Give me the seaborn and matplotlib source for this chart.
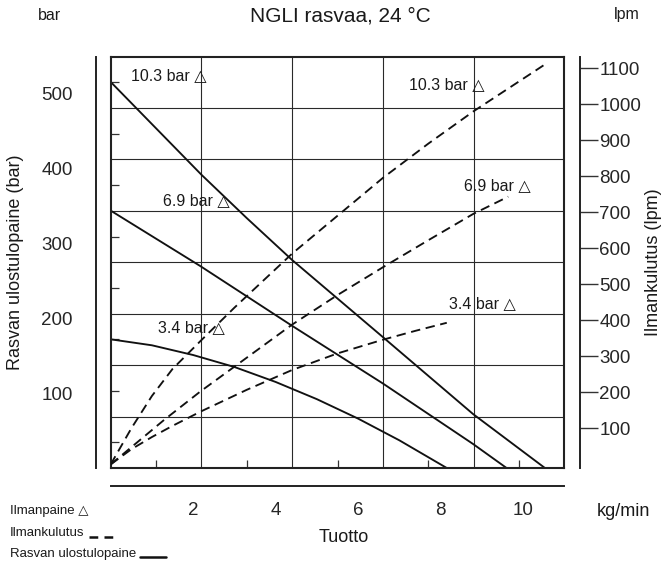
import numpy as np
import pandas as pd
import matplotlib
matplotlib.use("Agg")
import matplotlib.pyplot as plt
from matplotlib.lines import Line2D
import seaborn as sns

# Rasvan ulostulopaine (bar) tuoton (kg/min) funktiona, luettu kuvasta
flow_103 = [0, 1.1, 2.2, 3.3, 4.4, 6.6, 8.79, 10.53]
press_103 = [516, 454, 392, 334, 278, 175, 72, 0]
flow_69 = [0, 2.17, 4.4, 6.6, 8.79, 9.6]
press_69 = [344, 270, 190, 113, 32, 0]
flow_34 = [0, 1, 2, 3, 4, 5, 6, 7, 8.15]
press_34 = [172, 164, 151, 135, 115, 92, 66, 37, 0]

# Ilmankulutus (lpm)
air_flow_103 = [0, 0.5, 1, 1.5, 2.2, 3, 4.4, 5.5, 6.6, 7.7, 8.8, 10.53]
air_103 = [0, 100, 190, 265, 345, 435, 585, 690, 795, 890, 980, 1110]
air_flow_69 = [0, 1.28, 2.17, 2.89, 4.4, 5.5, 6.6, 7.7, 8.79, 9.64]
air_69 = [0, 122, 202, 262, 388, 470, 547, 622, 695, 743]
air_flow_34 = [0, 0.5, 1, 1.5, 2.17, 3.3, 4.4, 5.5, 6.6, 7.4, 8.15]
air_34 = [0, 42, 76, 107, 146, 207, 262, 308, 346, 371, 393]

series = ["10.3 bar", "6.9 bar", "3.4 bar"]
bar_ticks = [100, 200, 300, 400, 500]
lpm_ticks = [100, 200, 300, 400, 500, 600, 700, 800, 900, 1000, 1100]
x_major = [2, 4, 6, 8, 10]
x_minor = [1, 3, 5, 7, 9, 11]

df_p = pd.concat([
    pd.DataFrame({"tuotto": f, "paine": p, "ilma": s})
    for f, p, s in zip([flow_103, flow_69, flow_34], [press_103, press_69, press_34], series)
])
df_a = pd.concat([
    pd.DataFrame({"tuotto": f, "lpm": a, "ilma": s})
    for f, a, s in zip([air_flow_103, air_flow_69, air_flow_34], [air_103, air_69, air_34], series)
])

sns.set_style("white")
plt.rcParams["font.family"] = ["Liberation Sans", "DejaVu Sans"]
plt.rcParams["text.color"] = "#1a1a1a"

W, H = 668, 565
fig = plt.figure(figsize=(W / 100, H / 100), dpi=100)
rect = [110.7 / W, 1 - 468 / H, 453.6 / W, 411.5 / H]

XMAX, YMAX = 11, 550
LPM_LIM = (-10, 1132)
TICK_FS = 13.5

# paakuvaaja: ruudukko + kayrat
ax = fig.add_axes(rect)
ax.set_xlim(0, XMAX)
ax.set_ylim(0, YMAX)
ax.set_xticks(np.linspace(0, XMAX, 6)[1:-1])
ax.set_xticks(np.linspace(0, XMAX, 11)[1::2], minor=True)
ax.set_yticks(np.linspace(0, YMAX, 9)[1:-1])
ax.set_yticks(np.linspace(0, YMAX, 17)[1::2], minor=True)
ax.tick_params(which="major", length=0, labelbottom=False, labelleft=False)
ax.tick_params(which="minor", direction="in", length=6, width=0.9, color="#333",
               bottom=True, left=True, right=True, top=False,
               labelbottom=False, labelleft=False)
ax.grid(True, which="major", color="#2a2a2a", lw=0.8)
for sp in ax.spines.values():
    sp.set_linewidth(1.5)
    sp.set_color("#222")

sns.lineplot(data=df_p, x="tuotto", y="paine", units="ilma", estimator=None,
             sort=False, color="#111", lw=1.35, ax=ax)
ax.set_xlabel("")
ax.set_ylabel("")

# ilmankulutus oikealle akselille
ax_r = ax.twinx()
ax_r.set_ylim(*LPM_LIM)
sns.lineplot(data=df_a, x="tuotto", y="lpm", units="ilma", estimator=None,
             sort=False, color="#111", lw=1.35, linestyle=(0, (5, 3)), ax=ax_r)
ax_r.set_xlim(0, XMAX)
for k in ["left", "top", "bottom"]:
    ax_r.spines[k].set_visible(False)
ax_r.spines["right"].set_position(("outward", 11.3))
ax_r.spines["right"].set_linewidth(1.4)
ax_r.spines["right"].set_color("#222")
ax_r.set_yticks(lpm_ticks)
ax_r.tick_params(axis="y", direction="out", length=13, width=1.0, pad=1,
                 labelsize=TICK_FS, color="#333")
ax_r.set_ylabel("")
ax_r.set_xlabel("")

# vasen erillinen bar-asteikko
ax_l = fig.add_axes(rect, facecolor="none")
ax_l.set_ylim(0, YMAX)
ax_l.set_xticks([])
for k in ["right", "top", "bottom"]:
    ax_l.spines[k].set_visible(False)
ax_l.spines["left"].set_position(("outward", 10.6))
ax_l.spines["left"].set_linewidth(1.4)
ax_l.spines["left"].set_color("#222")
ax_l.set_yticks(bar_ticks)
ax_l.tick_params(axis="y", direction="out", length=11.8, width=1.0, pad=5,
                 labelsize=TICK_FS, color="#555")

# alempi erillinen tuottoasteikko
ax_b = fig.add_axes(rect, facecolor="none")
ax_b.set_xlim(0, XMAX)
ax_b.set_yticks([])
for k in ["right", "top", "left"]:
    ax_b.spines[k].set_visible(False)
ax_b.spines["bottom"].set_position(("outward", 12.8))
ax_b.spines["bottom"].set_linewidth(1.4)
ax_b.spines["bottom"].set_color("#222")
ax_b.set_xticks(x_major)
ax_b.set_xticks(x_minor, minor=True)
ax_b.tick_params(axis="x", which="major", direction="out", length=9, width=1.0,
                 pad=3, labelsize=TICK_FS, color="#333")
ax_b.tick_params(axis="x", which="minor", direction="out", length=5, width=1.0,
                 color="#333")

# kayrien merkinnat
ann_fs = 11.5
for x, y, s in [(0.49, 525, "10.3 bar"), (1.27, 357, "6.9 bar"), (1.15, 188, "3.4 bar"),
                (7.24, 512, "10.3 bar"), (8.57, 377, "6.9 bar"), (8.2, 220, "3.4 bar")]:
    ax.text(x, y, s + " \u25b3", fontsize=ann_fs, va="center", ha="left")

# otsikot ja akselien nimet
def ft(x, y, s, **kw):
    return fig.text(x / W, 1 - y / H, s, **kw)

ft(340, 16, "NGLI rasvaa, 24 \u00b0C", fontsize=15, ha="center", va="center")
ft(49, 16, "bar", fontsize=11.5, ha="center", va="center")
ft(627, 14, "lpm", fontsize=11.5, ha="center", va="center")
ft(16, 262, "Rasvan ulostulopaine (bar)", fontsize=13, rotation=90, ha="center", va="center")
ft(653, 262, "Ilmankulutus (lpm)", fontsize=13, rotation=90, ha="center", va="center")
ft(344, 537, "Tuotto", fontsize=13, ha="center", va="center")
ft(597, 511, "kg/min", fontsize=13, ha="left", va="center")

# selite vasempaan alakulmaan
leg_fs = 9.5
t1 = ft(10, 511, "Ilmanpaine \u25b3", fontsize=leg_fs, ha="left", va="center")
t2 = ft(10, 533, "Ilmankulutus", fontsize=leg_fs, ha="left", va="center")
t3 = ft(10, 554, "Rasvan ulostulopaine", fontsize=leg_fs, ha="left", va="center")
fig.canvas.draw()
r = fig.canvas.get_renderer()
for t, ls, yy in [(t2, (0, (3.5, 2.5)), 537), (t3, "-", 557)]:
    x1 = t.get_window_extent(r).x1
    fig.add_artist(Line2D([(x1 + 4) / W, (x1 + 30) / W], [1 - yy / H] * 2,
                          color="#111", lw=1.8, linestyle=ls, transform=fig.transFigure))

fig.savefig("out.png", dpi=100)
